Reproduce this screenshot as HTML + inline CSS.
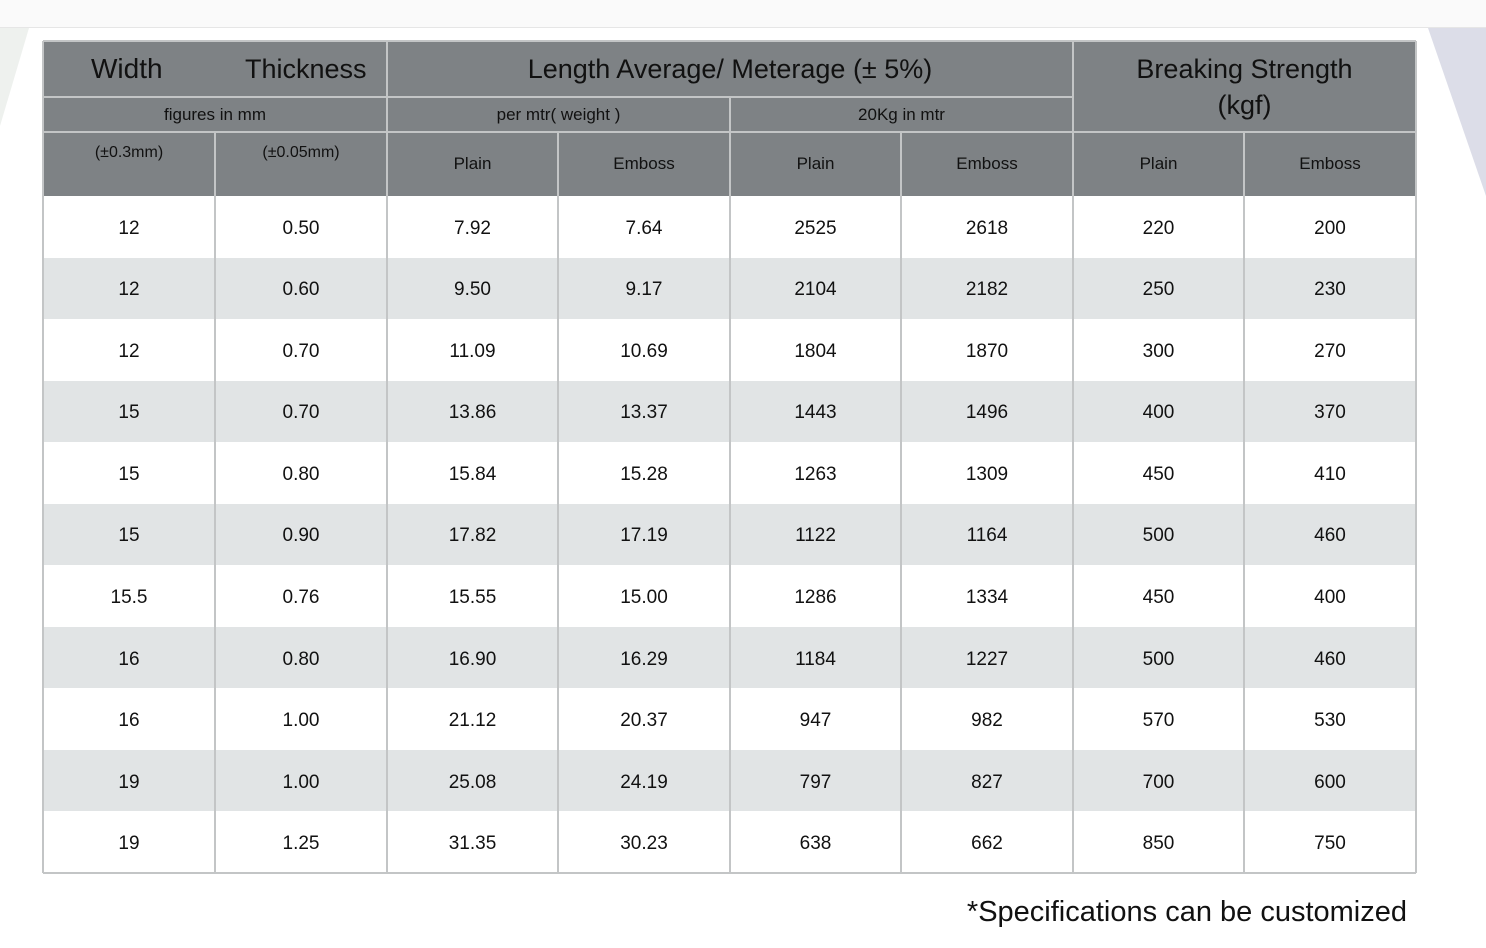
<!DOCTYPE html>
<html><head><style>
body{margin:0;width:1486px;height:948px;background:#fff;position:relative;overflow:hidden;font-family:"Liberation Sans",sans-serif;color:#111}
.c{position:absolute;display:flex;align-items:center;justify-content:center;text-align:center;box-sizing:border-box}
.h{background:#7e8285;}
</style></head><body>
<div style="position:absolute;left:0;top:0;width:1486px;height:27px;background:#fafafa;border-bottom:1px solid #e6e6e6"></div>
<svg style="position:absolute;left:0;top:28px" width="1486" height="200">
<polygon points="0,0 29,0 0,98" fill="#eef1ee"/>
<polygon points="1428,0 1486,0 1486,168" fill="#dcdde8"/>
</svg>
<div id="t"></div>
<script>
var X=[43,215,387,558,730,901,1073,1244,1416];
var h='';
function cell(x,y,w,hh,txt,fs,cls,extra){h+='<div class="c '+(cls||'')+'" style="left:'+x+'px;top:'+y+'px;width:'+w+'px;height:'+hh+'px;font-size:'+fs+'px;'+(extra||'')+'">'+txt+'</div>';}
cell(43,41,1373,155,'',10,'h');
cell(43,41,344,56,'<span style="position:absolute;left:48px;font-size:28px">Width</span><span style="position:absolute;left:202px">Thickness</span>',27,'');
cell(387,41,686,56,'Length Average/ Meterage (± 5%)',27,'');
cell(1073,41,343,91,'Breaking Strength<br>(kgf)',27,'','line-height:36px');
cell(43,97,344,35,'figures in mm',17,'');
cell(387,97,343,35,'per mtr( weight )',17,'');
cell(730,97,343,35,'20Kg in mtr',17,'');
cell(43,133,172,40,'(±0.3mm)',16,'');
cell(215,133,172,40,'(±0.05mm)',16,'');
var sub=['Plain','Emboss','Plain','Emboss','Plain','Emboss'];
for(var i=0;i<6;i++)cell(X[i+2],132,X[i+3]-X[i+2],64,sub[i],17,'');
var d=[['12','0.50','7.92','7.64','2525','2618','220','200'],['12','0.60','9.50','9.17','2104','2182','250','230'],['12','0.70','11.09','10.69','1804','1870','300','270'],['15','0.70','13.86','13.37','1443','1496','400','370'],['15','0.80','15.84','15.28','1263','1309','450','410'],['15','0.90','17.82','17.19','1122','1164','500','460'],['15.5','0.76','15.55','15.00','1286','1334','450','400'],['16','0.80','16.90','16.29','1184','1227','500','460'],['16','1.00','21.12','20.37','947','982','570','530'],['19','1.00','25.08','24.19','797','827','700','600'],['19','1.25','31.35','30.23','638','662','850','750']];
var rh=(873-196)/11;
for(var r=0;r<11;r++){var y=196+r*rh;
 h+='<div style="position:absolute;left:43px;top:'+y+'px;width:1373px;height:'+rh+'px;background:'+(r%2?'#e1e4e5':'#fff')+'"></div>';
 for(var c=0;c<8;c++)cell(X[c],y+2,X[c+1]-X[c],rh,d[r][c],19,'');}
function v(x,y1,y2,col){h+='<div style="position:absolute;left:'+(x-1)+'px;top:'+y1+'px;width:2px;height:'+(y2-y1)+'px;background:'+col+'"></div>';}
function hl(x1,x2,y,col){h+='<div style="position:absolute;left:'+x1+'px;top:'+(y-1)+'px;width:'+(x2-x1)+'px;height:2px;background:'+col+'"></div>';}
var lc='#c3c5c6';
v(43,41,873,lc);v(1416,41,873,lc);v(387,41,873,lc);v(1073,41,873,lc);
v(730,97,873,lc);
[215,558,901,1244].forEach(function(x){v(x,132,873,lc)});
hl(43,1073,97,lc);hl(43,1416,132,lc);hl(43,1416,41,lc);hl(43,1416,873,lc);
document.getElementById('t').innerHTML=h;
</script>
<div style="position:absolute;right:79px;top:896px;font-size:29px;color:#111">*Specifications can be customized</div>
</body></html>
